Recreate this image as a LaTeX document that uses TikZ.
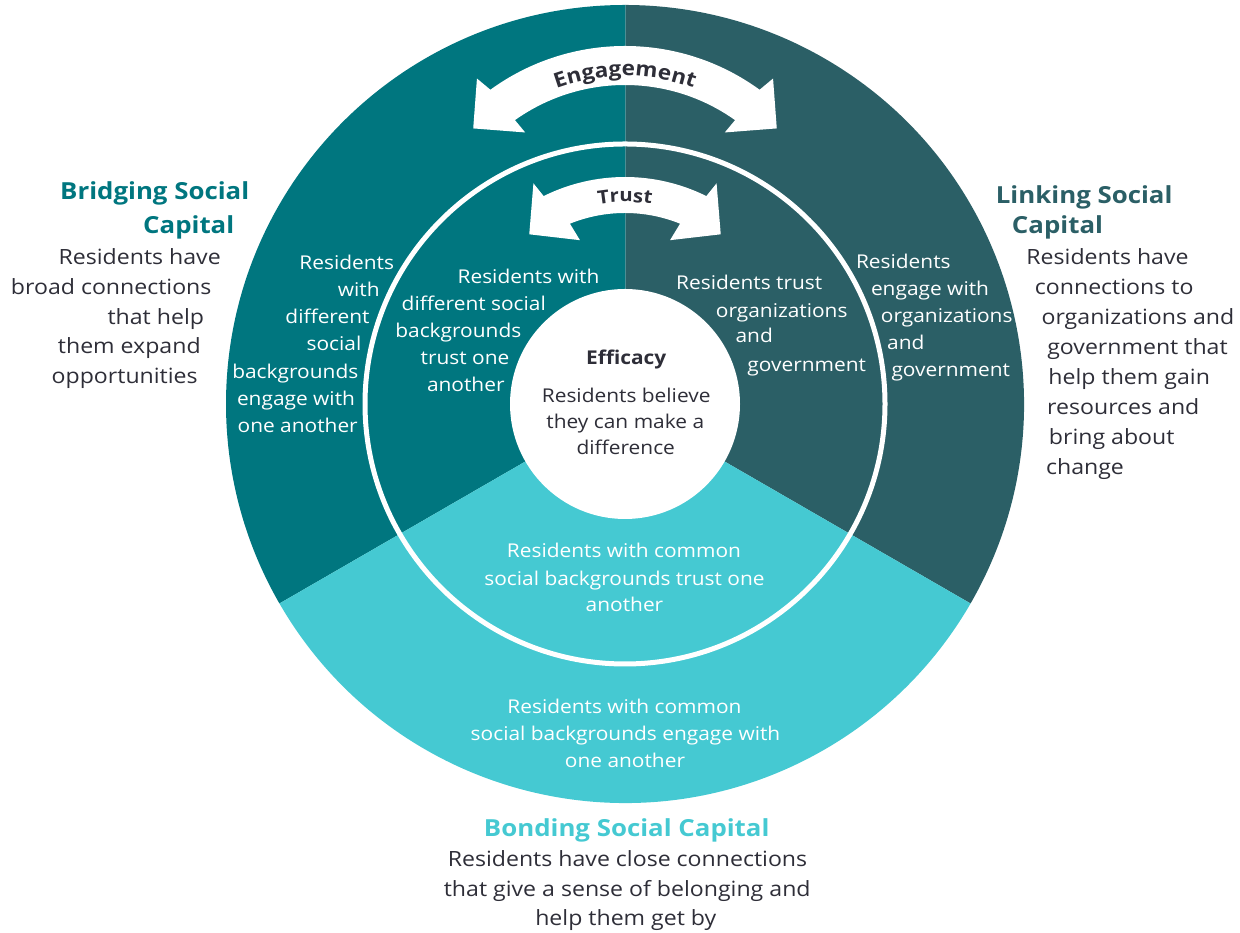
\documentclass[tikz,border=0pt]{standalone}
\usepackage{fontspec}
\setmainfont{Open Sans}[FakeStretch=1.1]
\usetikzlibrary{decorations.text}
\definecolor{bridgec}{HTML}{00767F}
\definecolor{linkc}{HTML}{2B5F66}
\definecolor{bondc}{HTML}{45C9D2}
\definecolor{bodyc}{HTML}{2E2E38}
\definecolor{seamc}{HTML}{4C8E94}
\begin{document}
\begin{tikzpicture}[x=1pt,y=1pt,
  body/.style={anchor=base, text=bodyc, font=\fontsize{21}{25}\selectfont, inner sep=0pt},
  ttl/.style={anchor=base, font=\bfseries\fontsize{23.5}{28}\selectfont, inner sep=0pt},
  wt/.style={anchor=base, text=white, font=\fontsize{19}{23}\selectfont, inner sep=0pt},
  eff/.style={anchor=base, text=bodyc, font=\fontsize{19}{23}\selectfont, inner sep=0pt},
  band/.style={fill=white}
]
\useasboundingbox (0,0) rectangle (1240,933);
\coordinate (C) at (625,529);
% sectors
\fill[bridgec] (C) -- ++(90:399) arc[start angle=90,end angle=210,radius=399] -- cycle;
\fill[linkc] (C) -- ++(-30:399) arc[start angle=-30,end angle=90,radius=399] -- cycle;
\fill[bondc] (C) -- ++(210:399) arc[start angle=210,end angle=330,radius=399] -- cycle;
\draw[seamc, line width=0.8] (C) -- ++(90:399);
\draw[white, line width=5] (C) circle[radius=260];
\fill[white] (C) circle[radius=115];
% engagement arrow
\begin{scope}[shift={(625,658)}]
\fill[band] (126:229) arc[start angle=126,end angle=54,radius=229] -- (53:246) -- (44:211) -- (55:174) -- (54.6:190) arc[start angle=54.6,end angle=125.4,radius=190] -- (125:174) -- (136:211) -- (127:246) -- cycle;
\path[decorate, decoration={text along path, text align=center, text color=bodyc, text={|\bfseries\fontsize{20.5}{20.5}\selectfont|Engagement}}] (130:199) arc[start angle=130,end angle=50,radius=199];
\end{scope}
% trust arrow
\begin{scope}[shift={(625,573)}]
\fill[band] (116.4:183) arc[start angle=116.4,end angle=63.6,radius=183] -- (62.6:199) -- (52.7:158) -- (69.4:128) -- (68:147) arc[start angle=68,end angle=112,radius=147] -- (110.6:128) -- (127.3:158) -- (117.4:199) -- cycle;
\path[decorate, decoration={text along path, text align=center, text color=bodyc, text={|\bfseries\fontsize{18.5}{18.5}\selectfont|Trust}}] (125:158) arc[start angle=125,end angle=55,radius=158];
\end{scope}
% Bridging
\node[ttl, text=bridgec] (br1) at (154.7,733.7) {Bridging Social};
\node[ttl, text=bridgec] (br2) at (188.7,699) {Capital};
\node[body] (bb1) at (139.7,668) {Residents have};
\node[body] (bb2) at (111.2,638.4) {broad connections};
\node[body] (bb3) at (155.8,608.8) {that help};
\node[body] (bb4) at (129.3,579.2) {them expand};
\node[body] (bb5) at (124.7,549.6) {opportunities};
% Linking
\node[ttl, text=linkc] (li1) at (1084.2,729.7) {Linking Social};
\node[ttl, text=linkc] (li2) at (1057.5,699.7) {Capital};
\node[body] (lb1) at (1107.5,668.7) {Residents have};
\node[body] (lb2) at (1114.2,638.7) {connections to};
\node[body] (lb3) at (1137.9,608) {organizations and};
\node[body] (lb4) at (1137.5,578) {government that};
\node[body] (lb5) at (1129.2,548) {help them gain};
\node[body] (lb6) at (1123.3,518) {resources and};
\node[body] (lb7) at (1111.7,488) {bring about};
\node[body] (lb8) at (1085,458.5) {change};
% Bonding
\node[ttl, text=bondc] (bo1) at (626.7,96.3) {Bonding Social Capital};
\node[body] (bo2) at (627.5,66.3) {Residents have close connections};
\node[body] (bo3) at (627.2,36.3) {that give a sense of belonging and};
\node[body] (bo4) at (625.8,7) {help them get by};
% left ring
\node[wt] (lr1) at (346.7,663.7) {Residents};
\node[wt] (lr2) at (358.7,636.3) {with};
\node[wt] (lr3) at (327.5,609.7) {different};
\node[wt] (lr4) at (334,582) {social};
\node[wt] (lr5) at (295.3,554.7) {backgrounds};
\node[wt] (lr6) at (296,527.3) {engage with};
\node[wt] (lr7) at (297.7,500.3) {one another};
% left inner
\node[wt] (lin1) at (528.5,649) {Residents with};
\node[wt] (lin2) at (473.8,622) {different social};
\node[wt] (lin3) at (458.3,595.3) {backgrounds};
\node[wt] (lin4) at (465,568) {trust one};
\node[wt] (lin5) at (465.8,541.3) {another};
% right inner
\node[wt] (ri1) at (749.2,643) {Residents trust};
\node[wt] (ri2) at (781.7,615.7) {organizations};
\node[wt] (ri3) at (754.2,590.3) {and};
\node[wt] (ri4) at (806.7,561.3) {government};
% right ring
\node[wt] (rr1) at (903.3,664.7) {Residents};
\node[wt] (rr2) at (930,637) {engage with};
\node[wt] (rr3) at (946.7,610.3) {organizations};
\node[wt] (rr4) at (905.8,583) {and};
\node[wt] (rr5) at (950.8,556.3) {government};
% efficacy
\node[eff, font=\bfseries\fontsize{19}{23}\selectfont] (ef1) at (626.2,568) {Efficacy};
\node[eff] (ef2) at (626.2,530.3) {Residents believe};
\node[eff] (ef3) at (625.3,504) {they can make a};
\node[eff] (ef4) at (625.8,478) {difference};
% bottom inner
\node[wt] (bi1) at (624,375.5) {Residents with common};
\node[wt] (bi2) at (624.5,347.5) {social backgrounds trust one};
\node[wt] (bi3) at (624.5,321.5) {another};
% bottom ring
\node[wt] (bz1) at (624.5,219) {Residents with common};
\node[wt] (bz2) at (625.5,192) {social backgrounds engage with};
\node[wt] (bz3) at (625,165) {one another};
\end{tikzpicture}
\end{document}
